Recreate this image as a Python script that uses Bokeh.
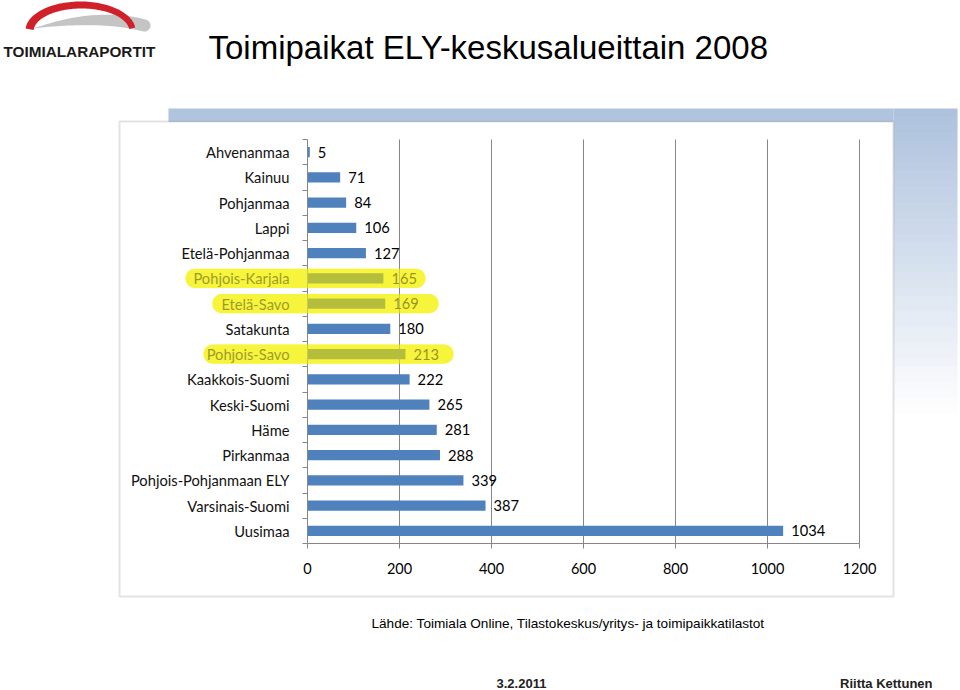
import numpy as np
from bokeh.plotting import figure
from bokeh.models import (Range1d, LinearAxis, FixedTicker, Grid,
                          BoxAnnotation, PolyAnnotation, Label, ColumnDataSource)
from bokeh.core.properties import value
from bokeh.embed import file_html
from bokeh.resources import INLINE

# ---------------- data ----------------
categories = ["Ahvenanmaa", "Kainuu", "Pohjanmaa", "Lappi", "Etelä-Pohjanmaa",
              "Pohjois-Karjala", "Etelä-Savo", "Satakunta", "Pohjois-Savo",
              "Kaakkois-Suomi", "Keski-Suomi", "Häme", "Pirkanmaa",
              "Pohjois-Pohjanmaan ELY", "Varsinais-Suomi", "Uusimaa"]
counts = [5, 71, 84, 106, 127, 165, 169, 180, 213, 222, 265, 281, 288, 339, 387, 1034]
highlighted = ["Pohjois-Karjala", "Etelä-Savo", "Pohjois-Savo"]
x_ticks = [0, 200, 400, 600, 800, 1000, 1200]

title_text = "Toimipaikat ELY-keskusalueittain 2008"
source_text = "Lähde: Toimiala Online, Tilastokeskus/yritys- ja toimipaikkatilastot"
date_text = "3.2.2011"
author_text = "Riitta Kettunen"
logo_text = "TOIMIALARAPORTIT"

# ---------------- styles ----------------
BAR_BLUE = "#4F81BD"
BAR_UNDER_HL = "#506E3C"
HL_YELLOW = "#F7F43C"
GRID_GRAY = "#868686"
CHART_FONT = "Lato"
SLIDE_FONT = "Liberation Sans"
FS = "14.7px"

n = len(categories)
idx = list(range(n))
x_min, x_max = x_ticks[0], x_ticks[-1]

W, H = 960, 690
ORIGIN = 0  # canvas origin in slide pixels

# slide layout: the chart's plot area occupies slide px x 307..859, y 139..543
PA_L, PA_R, PA_T, PA_B = 307.0, 859.0, 139.0, 543.0
XS = (PA_R - PA_L) / (x_max - x_min)          # px per value unit
YS = (PA_B - PA_T) / n                         # px per category band
def dx(px):
    return x_min + (px - PA_L) / XS
def dy(py):
    return (py - PA_T) / YS - 0.5

# hand-drawn highlighter strokes: horizontal extent in slide pixels
hl_extent = {"Pohjois-Karjala": (185, 425), "Etelä-Savo": (212, 438), "Pohjois-Savo": (203, 453)}

p = figure(width=W, height=H, output_backend="svg", toolbar_location=None,
           x_range=Range1d(dx(ORIGIN), dx(ORIGIN + W)),
           y_range=Range1d(dy(ORIGIN + H), dy(ORIGIN)),
           x_axis_location=None, y_axis_location=None,
           min_border_left=0, min_border_right=0, min_border_top=0, min_border_bottom=0)
p.center = [r for r in p.center if not isinstance(r, Grid)]
p.outline_line_color = None
p.background_fill_color = "white"
p.border_fill_color = "white"

# ---- blue background band ----
p.add_layout(BoxAnnotation(left=dx(168), right=dx(893), top=dy(108), bottom=dy(121.5),
                           fill_color="#B0C4DE", fill_alpha=1, line_color=None, level="underlay"))
top_c = np.array([174, 194, 221])
white = np.array([255, 255, 255])
N = 40
y0, y1 = 108, 420
for k in range(N):
    f = k / (N - 1)
    c = top_c + (white - top_c) * f
    col = "#%02x%02x%02x" % tuple(int(round(v)) for v in c)
    ya = y0 + (y1 - y0) * k / N
    yb = y0 + (y1 - y0) * (k + 1) / N + 0.6
    p.add_layout(BoxAnnotation(left=dx(893), right=dx(957), top=dy(ya), bottom=dy(yb),
                               fill_color=col, fill_alpha=1, line_color=None, level="underlay"))

# chart image frame
p.add_layout(BoxAnnotation(left=dx(119), right=dx(893), top=dy(121), bottom=dy(596),
                           fill_color=None, line_color="#A3A3A3", line_width=2, level="underlay"))

# highlighter underlay
for cat in highlighted:
    i = categories.index(cat)
    l, r = hl_extent[cat]
    p.add_layout(BoxAnnotation(left=dx(l), right=dx(r), top=i - 0.38, bottom=i + 0.38,
                               fill_color=HL_YELLOW, fill_alpha=1, line_color=None,
                               border_radius=9, level="underlay"))

# vertical gridlines (only over the plot area)
p.segment(x0=x_ticks[1:], x1=x_ticks[1:], y0=[-0.5] * (len(x_ticks) - 1),
          y1=[n - 0.5] * (len(x_ticks) - 1), line_color=GRID_GRAY, line_width=1)

# ---- bars ----
colors = [BAR_UNDER_HL if c in highlighted else BAR_BLUE for c in categories]
src = ColumnDataSource(dict(pos=idx, cat=categories, val=counts, color=colors,
                            label=[str(v) for v in counts]))
p.hbar(y="pos", left=0, right="val", height=0.4, fill_color="color", line_color=None, source=src)
p.text(x="val", y="pos", text="label", x_offset=8, text_baseline="middle", text_align="left",
       text_font=value(CHART_FONT), text_font_size=FS, text_color="#000000", source=src)

# ---- axes (fixed inside the full-canvas frame) ----
x_axis = LinearAxis(ticker=FixedTicker(ticks=x_ticks), fixed_location=n - 0.5,
                    bounds=(x_min, x_max), major_tick_out=5, major_tick_in=0,
                    minor_tick_out=0, minor_tick_in=0,
                    axis_line_color=GRID_GRAY, major_tick_line_color=GRID_GRAY,
                    major_label_standoff=14, major_label_text_font=CHART_FONT,
                    major_label_text_font_size="14.5px", major_label_text_color="#000000")
p.add_layout(x_axis, "below")

cat_axis = LinearAxis(ticker=FixedTicker(ticks=idx, minor_ticks=[k - 0.5 for k in range(n + 1)]),
                      fixed_location=0, bounds=(-0.5, n - 0.5),
                      major_label_overrides={i: c for i, c in zip(idx, categories)},
                      major_tick_out=0, major_tick_in=0, major_tick_line_color=None,
                      minor_tick_out=5, minor_tick_in=0, minor_tick_line_color=GRID_GRAY,
                      axis_line_color=GRID_GRAY, major_label_standoff=13,
                      major_label_text_font=CHART_FONT, major_label_text_font_size=FS,
                      major_label_text_color="#111111")
p.add_layout(cat_axis, "left")

# highlighter tint on top
for cat in highlighted:
    i = categories.index(cat)
    l, r = hl_extent[cat]
    p.add_layout(BoxAnnotation(left=dx(l), right=dx(r), top=i - 0.38, bottom=i + 0.38,
                               fill_color=HL_YELLOW, fill_alpha=0.6, line_color=None,
                               border_radius=9, level="overlay"))

# ---- logo ----
s = np.linspace(0, 1, 50)
def qbez(P0, P1, P2):
    return ((1 - s) ** 2)[:, None] * np.array(P0) + (2 * (1 - s) * s)[:, None] * np.array(P1) \
        + (s ** 2)[:, None] * np.array(P2)
up = qbez((33, 28), (95, 6), (145, 19))
lo = qbez((143, 31), (100, 20), (33, 28))
a = np.linspace(np.pi / 2, -np.pi / 2, 20)
cap_x = 144 + 6 * np.cos(a)
cap_y = 25 - 6 * np.sin(a)
gx = np.concatenate([up[:, 0], cap_x, lo[:, 0]])
gy = np.concatenate([up[:, 1], cap_y, lo[:, 1]])
p.add_layout(PolyAnnotation(xs=[dx(v) for v in gx], ys=[dy(v) for v in gy],
                            fill_color="#C4C4C4", fill_alpha=1, line_color=None))
t = np.linspace(np.radians(176), np.radians(6), 70)
rx = np.concatenate([80 + 55 * np.cos(t), (81 + 48 * np.cos(t))[::-1]])
ry = np.concatenate([30 - 29 * np.sin(t), (31 - 23 * np.sin(t))[::-1]])
p.add_layout(PolyAnnotation(xs=[dx(v) for v in rx], ys=[dy(v) for v in ry],
                            fill_color="#D0202A", fill_alpha=1, line_color=None))
p.add_layout(Label(x=dx(3), y=dy(51), text=logo_text, text_font=SLIDE_FONT,
                   text_font_style="bold", text_font_size="15.3px", text_color="#1A1A1A",
                   text_baseline="alphabetic"))

# ---- slide texts ----
p.add_layout(Label(x=dx(208), y=dy(47), text=title_text, text_font=SLIDE_FONT,
                   text_font_size="33px", text_color="#000000", text_baseline="alphabetic"))
p.add_layout(Label(x=dx(371), y=dy(623), text=source_text, text_font=SLIDE_FONT,
                   text_font_size="13.6px", text_color="#000000", text_baseline="alphabetic"))
p.add_layout(Label(x=dx(496), y=dy(683), text=date_text, text_font=SLIDE_FONT,
                   text_font_style="bold", text_font_size="13px", text_color="#222222",
                   text_baseline="alphabetic"))
p.add_layout(Label(x=dx(932), y=dy(683), text=author_text, text_font=SLIDE_FONT,
                   text_font_style="bold", text_font_size="13px", text_color="#222222",
                   text_baseline="alphabetic", text_align="right"))

open("out.html", "w").write(file_html(p, INLINE))
